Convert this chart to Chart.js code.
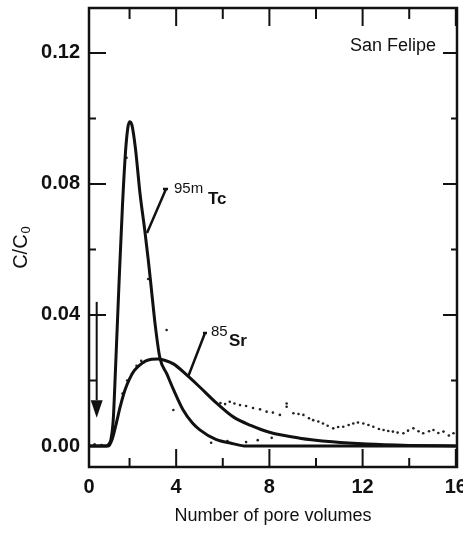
<!DOCTYPE html>
<html>
<head>
<meta charset="utf-8">
<script src="https://cdn.jsdelivr.net/npm/chart.js@4.4.0/dist/chart.umd.min.js"></script>
<style>
html, body { margin: 0; padding: 0; background: #fff; }
#wrap { position: relative; width: 463px; height: 537px; }
</style>
</head>
<body>
<div id="wrap"><canvas id="chart"></canvas></div>
<script>
// 95mTc fitted curve
var tcX = [0, 1.0, 1.1, 1.2, 1.3, 1.4, 1.55, 1.7, 1.85, 2.0, 2.1, 2.25, 2.45, 2.65, 2.8, 2.95, 3.1, 3.3, 3.6, 3.9, 4.3, 4.7, 5.0, 5.7, 6.4, 7.0, 16];
var tcY = [0, 0, 0.0005, 0.002, 0.008, 0.024, 0.050, 0.074, 0.092, 0.099, 0.098, 0.091, 0.077, 0.066, 0.057, 0.047, 0.037, 0.027, 0.022, 0.017, 0.011, 0.007, 0.005, 0.002, 0.0008, 0, 0];

// 85Sr fitted curve
var srX = [0, 1.1, 1.25, 1.4, 1.6, 1.8, 2.0, 2.2, 2.45, 2.7, 2.95, 3.2, 3.5, 3.9, 4.45, 5.0, 5.75, 6.45, 7.2, 8.0, 9.3, 10.7, 12.2, 14, 16];
var srY = [0, 0, 0.002, 0.006, 0.012, 0.017, 0.0205, 0.023, 0.0248, 0.026, 0.0265, 0.0266, 0.0262, 0.025, 0.0217, 0.0181, 0.013, 0.0089, 0.0063, 0.0042, 0.0024, 0.0013, 0.0006, 0.0002, 0];

// measured points (dots)
var dotX = [0.2, 0.5, 0.8, 1.7, 1.87, 1.9, 2.1, 2.3, 2.5, 2.6, 2.8, 3.59, 3.88, 5.5, 6.2, 7.0, 7.5, 8.1,
  5.9, 6.1, 6.3, 6.5, 6.74, 7.0, 7.3, 7.6, 7.88, 8.15, 8.45, 8.74, 8.74, 9.03, 9.25, 9.46, 9.7, 9.88,
  10.1, 10.3, 10.5, 10.74, 10.95, 11.17, 11.4, 11.6, 11.8, 12.03, 12.25, 12.46, 12.7, 12.9, 13.1, 13.3,
  13.5, 13.75, 13.95, 14.18, 14.4, 14.6, 14.85, 15.04, 15.25, 15.47, 15.7, 15.9];
var dotY = [0.0005, 0.0005, 0.0003, 0.016, 0.088, 0.02, 0.022, 0.0245, 0.026, 0.0255, 0.051, 0.0354, 0.011, 0.001, 0.0015, 0.0012, 0.0018, 0.0025,
  0.0131, 0.0128, 0.0135, 0.013, 0.0125, 0.0122, 0.0116, 0.0112, 0.0105, 0.0102, 0.0095, 0.013, 0.012, 0.01, 0.0098, 0.0095, 0.0085, 0.0079,
  0.0075, 0.0069, 0.0062, 0.0054, 0.0058, 0.0059, 0.0064, 0.0069, 0.0072, 0.0069, 0.0064, 0.0059, 0.0052, 0.0049, 0.0046, 0.0044,
  0.0041, 0.0039, 0.0047, 0.0054, 0.0045, 0.0039, 0.0045, 0.0049, 0.004, 0.0044, 0.0032, 0.0039];

var xTicks = [0, 4, 8, 12, 16];
var yTicks = [0, 0.04, 0.08, 0.12];
var xMinor = [2, 6, 10, 14];
var yMinor = [0.02, 0.06, 0.10];

function pairs(xs, ys) {
    return xs.map(function(x, i) { return { x: x, y: ys[i] }; });
}

var xMin = 0.26, xMax = 16.05;
var yMin = -0.0064, yMax = 0.1337;

// frame, inward ticks, arrow and labels
var decor = {
    id: 'decor',
    afterDraw: function(chart) {
        var ctx = chart.ctx;
        var a = chart.chartArea;
        var sx = chart.scales.x, sy = chart.scales.y;
        ctx.save();
        ctx.strokeStyle = '#111';
        ctx.fillStyle = '#111';
        ctx.lineWidth = 2.5;
        ctx.strokeRect(a.left, a.top, a.right - a.left, a.bottom - a.top);

        ctx.lineWidth = 2;
        ctx.beginPath();
        yTicks.concat(yMinor).forEach(function(v) {
            var major = yTicks.indexOf(v) >= 0;
            var p = sy.getPixelForValue(v);
            ctx.moveTo(a.left, p); ctx.lineTo(a.left + (major ? 17 : 7), p);
            ctx.moveTo(a.right, p); ctx.lineTo(a.right - (major ? 14 : 6), p);
        });
        xTicks.concat(xMinor).forEach(function(v) {
            if (v < xMin) return;
            var major = xTicks.indexOf(v) >= 0;
            var p = sx.getPixelForValue(v);
            ctx.moveTo(p, a.top); ctx.lineTo(p, a.top + (major ? 18 : 11));
            ctx.moveTo(p, a.bottom); ctx.lineTo(p, a.bottom - (major ? 18 : 9));
        });
        ctx.stroke();

        // injection arrow
        var ax = sx.getPixelForValue(0.59);
        ctx.lineWidth = 2;
        ctx.beginPath();
        ctx.moveTo(ax, sy.getPixelForValue(0.044));
        ctx.lineTo(ax, sy.getPixelForValue(0.014));
        ctx.stroke();
        ctx.beginPath();
        ctx.moveTo(ax - 6, sy.getPixelForValue(0.014));
        ctx.lineTo(ax + 6, sy.getPixelForValue(0.014));
        ctx.lineTo(ax, sy.getPixelForValue(0.0086));
        ctx.closePath();
        ctx.fill();

        // leader lines
        ctx.lineWidth = 2.5;
        ctx.beginPath();
        ctx.moveTo(163, 189); ctx.lineTo(168, 189);
        ctx.moveTo(166, 189); ctx.lineTo(147, 233);
        ctx.moveTo(203, 333); ctx.lineTo(207, 333);
        ctx.moveTo(205, 333); ctx.lineTo(188, 377);
        ctx.stroke();

        ctx.textBaseline = 'middle';
        ctx.textAlign = 'left';
        ctx.font = '15px "Liberation Sans", Arial';
        ctx.fillText('95m', 174, 189);
        ctx.fillText('85', 211, 332);
        ctx.font = 'bold 17px "Liberation Sans", Arial';
        ctx.fillText('Tc', 208, 199);
        ctx.fillText('Sr', 229, 341);

        ctx.textAlign = 'right';
        ctx.font = '18px "Liberation Sans", Arial';
        ctx.fillText('San Felipe', 436, 46);

        ctx.textAlign = 'center';
        ctx.fillText('Number of pore volumes', 273, 516);

        // y title C/Co
        ctx.translate(21, 248);
        ctx.rotate(-Math.PI / 2);
        ctx.textAlign = 'left';
        ctx.font = '20px "Liberation Sans", Arial';
        var w = ctx.measureText('C/C').width;
        ctx.font = '13px "Liberation Sans", Arial';
        var w2 = ctx.measureText('0').width;
        var start = -(w + w2) / 2;
        ctx.font = '20px "Liberation Sans", Arial';
        ctx.fillText('C/C', start, 0);
        ctx.font = '13px "Liberation Sans", Arial';
        ctx.fillText('0', start + w + 1, 5);
        ctx.restore();
    }
};

function noPad(scale) {
    scale.paddingTop = 0;
    scale.paddingBottom = 0;
    scale.paddingLeft = 0;
    scale.paddingRight = 0;
}

var config = {
    type: 'scatter',
    data: {
        datasets: [
            {
                label: '95mTc',
                data: pairs(tcX, tcY),
                showLine: true,
                borderColor: '#111',
                borderWidth: 3,
                pointRadius: 0,
                cubicInterpolationMode: 'monotone'
            },
            {
                label: '85Sr',
                data: pairs(srX, srY),
                showLine: true,
                borderColor: '#111',
                borderWidth: 3,
                pointRadius: 0,
                cubicInterpolationMode: 'monotone'
            },
            {
                label: 'data',
                data: pairs(dotX, dotY),
                showLine: false,
                pointRadius: 1.3,
                pointBorderWidth: 0,
                backgroundColor: '#222'
            }
        ]
    },
    options: {
        responsive: true,
        maintainAspectRatio: false,
        animation: false,
        devicePixelRatio: 1,
        layout: { padding: { top: 8, right: 6, left: 0, bottom: 0 } },
        plugins: { legend: { display: false }, tooltip: { enabled: false } },
        scales: {
            x: {
                type: 'linear',
                min: xMin,
                max: xMax,
                grid: { display: false, drawTicks: false },
                border: { display: false },
                afterBuildTicks: function(scale) {
                    scale.ticks = xTicks.map(function(v) { return { value: Math.max(v, xMin) }; });
                },
                afterFit: function(scale) { scale.height = 70; noPad(scale); },
                ticks: {
                    autoSkip: false,
                    maxRotation: 0,
                    padding: 8,
                    color: '#111',
                    font: { family: '"Liberation Sans", Arial', size: 20, weight: 'bold' },
                    callback: function(v) { return String(Math.round(v)); }
                }
            },
            y: {
                type: 'linear',
                min: yMin,
                max: yMax,
                grid: { display: false, drawTicks: false },
                border: { display: false },
                afterBuildTicks: function(scale) {
                    scale.ticks = yTicks.map(function(v) { return { value: v }; });
                },
                afterFit: function(scale) { scale.width = 89; noPad(scale); },
                ticks: {
                    autoSkip: false,
                    padding: 9,
                    color: '#111',
                    font: { family: '"Liberation Sans", Arial', size: 20, weight: 'bold' },
                    callback: function(v) { return v.toFixed(2); }
                }
            }
        }
    },
    plugins: [decor]
};

var chart = new Chart(document.getElementById('chart'), config);
</script>
</body>
</html>
